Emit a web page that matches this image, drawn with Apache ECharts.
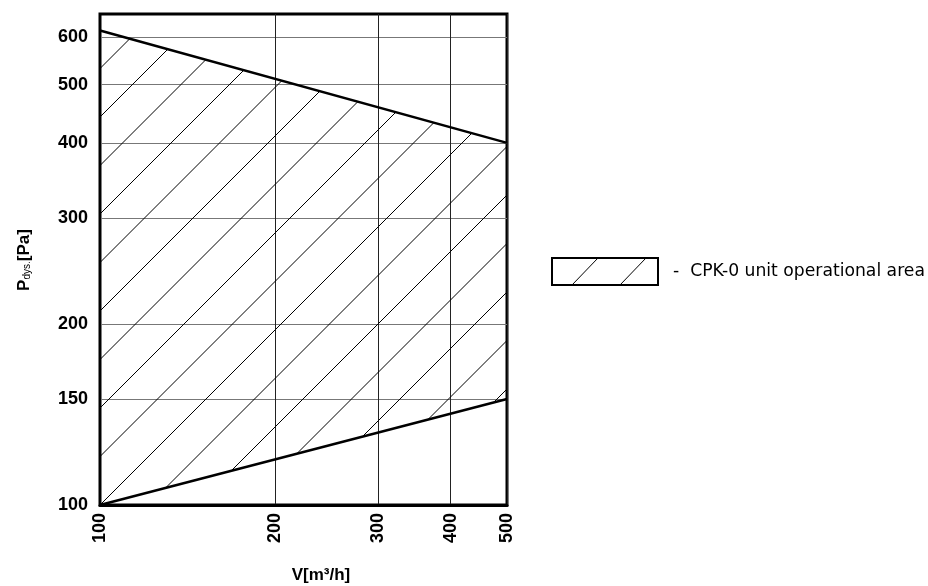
<!DOCTYPE html>
<html><head><meta charset="utf-8">
<script src="https://cdn.jsdelivr.net/npm/echarts@6/dist/echarts.min.js"></script>
<style>html,body{margin:0;padding:0;background:#fff}#c{width:928px;height:586px}</style>
</head><body><div id="c"></div>
<script>
// Data
const flowPoints = [100, 500];          // V [m3/h]
const upperPressure = [615, 400];       // Pa, upper boundary
const lowerPressure = [100, 150];       // Pa, lower boundary
const xTickValues = [100, 200, 300, 400, 500];
const yTickValues = [100, 150, 200, 300, 400, 500, 600];
const legendLabel = '-  CPK-0 unit operational area';

// hatch pattern (style only)
const step = 48.5, tile = 97;
const cv = document.createElement('canvas');
cv.width = tile; cv.height = tile;
const g = cv.getContext('2d');
g.strokeStyle = '#000'; g.lineWidth = 1;
for (let k = 0; k <= 4; k++) {
  const c = k * step;
  g.beginPath(); g.moveTo(c + 20, -20); g.lineTo(-20, c + 20); g.stroke();
}
const hatch = {image: cv, repeat: 'repeat', x: 23, y: 0};

const chart = echarts.init(document.getElementById('c'), null, {renderer: 'canvas'});
const lowerData = flowPoints.map((x, i) => [x, lowerPressure[i]]);
const upperData = flowPoints.map((x, i) => [x, upperPressure[i]]);
const bandData = flowPoints.map((x, i) => [x, lowerPressure[i], upperPressure[i]]);

const option = {
  animation: false,
  backgroundColor: '#fff',
  grid: {left: 100, right: 421, top: 14, bottom: 81, show: true, borderColor: '#000', borderWidth: 3, backgroundColor: 'transparent'},
  xAxis: {
    type: 'log', logBase: 10, min: 100, max: 500,
    axisLine: {show: true, lineStyle: {color: '#000', width: 3}},
    axisTick: {show: false, customValues: xTickValues},
    axisLabel: {customValues: xTickValues, rotate: 90, margin: 8, color: '#000', fontFamily: 'Liberation Sans', fontWeight: 'bold', fontSize: 18},
    splitLine: {show: true, lineStyle: {color: '#222', width: 1}},
    minorTick: {show: false}, minorSplitLine: {show: false}
  },
  yAxis: {
    type: 'log', logBase: 10, min: 100, max: 655,
    axisLine: {show: true, lineStyle: {color: '#000', width: 2}},
    axisTick: {show: false, customValues: yTickValues},
    axisLabel: {customValues: yTickValues, margin: 12, color: '#000', fontFamily: 'Liberation Sans', fontWeight: 'bold', fontSize: 18},
    splitLine: {show: true, lineStyle: {color: '#777', width: 1}},
    minorTick: {show: false}, minorSplitLine: {show: false}
  },
  series: [
    {
      type: 'custom', name: 'CPK-0 unit operational area', data: bandData, z: 1,
      encode: {x: 0, y: [1, 2]},
      renderItem: function (params, api) {
        const i = params.dataIndex;
        if (i >= bandData.length - 1) return null;
        const a = bandData[i], b = bandData[i + 1];
        const pts = [api.coord([a[0], a[1]]), api.coord([b[0], b[1]]), api.coord([b[0], b[2]]), api.coord([a[0], a[2]])];
        return {type: 'polygon', shape: {points: pts}, style: {fill: hatch, stroke: null}};
      }
    },
    {
      type: 'line', name: 'lower', data: lowerData, symbol: 'none', z: 3,
      lineStyle: {color: '#000', width: 2.5}, itemStyle: {color: '#000'}
    },
    {
      type: 'line', name: 'upper', data: upperData, symbol: 'none', z: 3,
      lineStyle: {color: '#000', width: 2.5}, itemStyle: {color: '#000'}
    }
  ],
  graphic: [
    {type: 'text', x: 321, y: 575, style: {text: 'V[m³/h]', font: 'bold 17px "Liberation Sans"', fill: '#000', align: 'center', verticalAlign: 'middle'}},
    {type: 'text', x: 24, y: 260, rotation: Math.PI / 2,
      style: {text: '{a|P}{b|dys.}{a|[Pa]}', align: 'center', verticalAlign: 'middle', fill: '#000',
        rich: {a: {font: 'bold 17px "Liberation Sans"', fill: '#000', verticalAlign: 'bottom'}, b: {font: '10px "Liberation Sans"', fill: '#000', verticalAlign: 'bottom'}}}},
    {type: 'rect', shape: {x: 552, y: 258, width: 106, height: 27}, style: {fill: '#fff', stroke: '#000', lineWidth: 2}},
    {type: 'line', shape: {x1: 572, y1: 285, x2: 598, y2: 258}, style: {stroke: '#000', lineWidth: 1}},
    {type: 'line', shape: {x1: 620, y1: 285, x2: 646, y2: 258}, style: {stroke: '#000', lineWidth: 1}},
    {type: 'text', x: 673, y: 272, style: {text: legendLabel, font: '17.2px "DejaVu Sans"', fill: '#000', align: 'left', verticalAlign: 'middle'}}
  ]
};
chart.setOption(option);
</script>
</body></html>
